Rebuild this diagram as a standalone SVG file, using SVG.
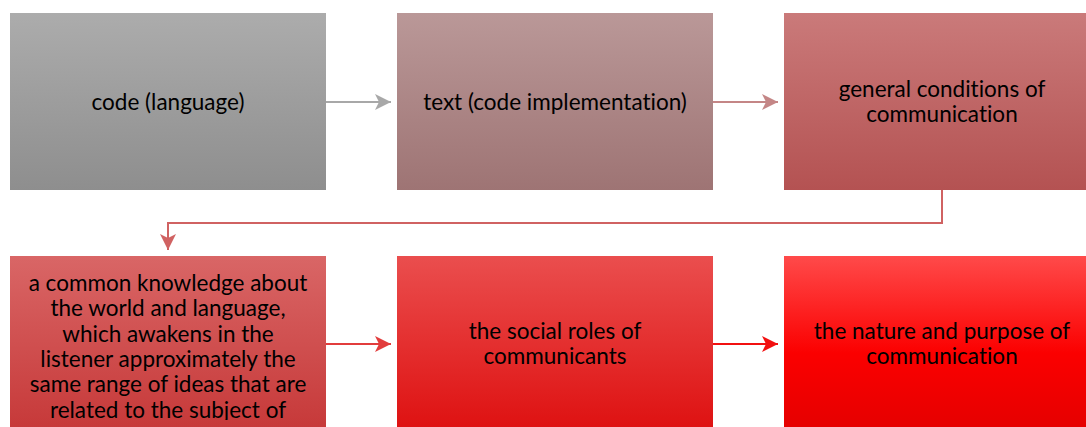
<svg xmlns="http://www.w3.org/2000/svg" width="1086" height="427" viewBox="0 0 1086 427">
  <style>
    .label { font-family: Lato, "Open Sans", "Liberation Sans", sans-serif; font-size: 22.5px; fill: #000; text-anchor: middle; font-variant-ligatures: none; }
    .link { fill: none; stroke-width: 2; }
  </style>
  <defs>
    <linearGradient id="g1" x1="0" y1="0" x2="0" y2="1"><stop offset="0" stop-color="#acacac"/><stop offset="1" stop-color="#8e8e8e"/></linearGradient>
    <linearGradient id="g2" x1="0" y1="0" x2="0" y2="1"><stop offset="0" stop-color="#ba9898"/><stop offset="1" stop-color="#9e7474"/></linearGradient>
    <linearGradient id="g3" x1="0" y1="0" x2="0" y2="1"><stop offset="0" stop-color="#ca7a7a"/><stop offset="1" stop-color="#b45252"/></linearGradient>
    <linearGradient id="g4" x1="0" y1="0" x2="0" y2="1"><stop offset="0" stop-color="#d96666"/><stop offset="1" stop-color="#c63838"/></linearGradient>
    <linearGradient id="g5" x1="0" y1="0" x2="0" y2="1"><stop offset="0" stop-color="#ea4e4e"/><stop offset="1" stop-color="#de1010"/></linearGradient>
    <linearGradient id="g6" x1="0" y1="0" x2="0" y2="1"><stop offset="0" stop-color="#ff4a4a"/><stop offset="0.55" stop-color="#fb0000"/><stop offset="1" stop-color="#e40000"/></linearGradient>
    <marker id="a1" viewBox="0 0 16 16" refX="16" refY="8" markerWidth="16" markerHeight="16" markerUnits="userSpaceOnUse" orient="auto"><path d="M0,0 L16,8 L0,16 L4,8 z" fill="#a8a8a8"/></marker>
    <marker id="a2" viewBox="0 0 16 16" refX="16" refY="8" markerWidth="16" markerHeight="16" markerUnits="userSpaceOnUse" orient="auto"><path d="M0,0 L16,8 L0,16 L4,8 z" fill="#c48686"/></marker>
    <marker id="a3" viewBox="0 0 16 16" refX="16" refY="8" markerWidth="16" markerHeight="16" markerUnits="userSpaceOnUse" orient="auto"><path d="M0,0 L16,8 L0,16 L4,8 z" fill="#d06262"/></marker>
    <marker id="a4" viewBox="0 0 16 16" refX="16" refY="8" markerWidth="16" markerHeight="16" markerUnits="userSpaceOnUse" orient="auto"><path d="M0,0 L16,8 L0,16 L4,8 z" fill="#e23c3c"/></marker>
    <marker id="a5" viewBox="0 0 16 16" refX="16" refY="8" markerWidth="16" markerHeight="16" markerUnits="userSpaceOnUse" orient="auto"><path d="M0,0 L16,8 L0,16 L4,8 z" fill="#f21010"/></marker>
    <clipPath id="clip4"><rect x="10" y="256" width="316" height="164"/></clipPath>
  </defs>

  <g id="connectors">
    <path class="link" d="M326,102 H391" stroke="#a8a8a8" marker-end="url(#a1)"/>
    <path class="link" d="M713,102 H778" stroke="#c48686" marker-end="url(#a2)"/>
    <path class="link" d="M942,190 V223 H168 V250" stroke="#d06262" marker-end="url(#a3)"/>
    <path class="link" d="M326,344 H391" stroke="#e23c3c" marker-end="url(#a4)"/>
    <path class="link" d="M713,344 H778" stroke="#f21010" marker-end="url(#a5)"/>
  </g>

  <g id="code">
    <rect x="10" y="13" width="316" height="177" fill="url(#g1)"/>
    <text class="label" x="168" y="110">code (language)</text>
  </g>

  <g id="text">
    <rect x="397" y="13" width="316" height="177" fill="url(#g2)"/>
    <text class="label" x="555" y="110">text (code implementation)</text>
  </g>

  <g id="conditions">
    <rect x="784" y="13" width="316" height="177" fill="url(#g3)"/>
    <text class="label" x="942" y="97">general conditions of</text>
    <text class="label" x="942" y="122">communication</text>
  </g>

  <g id="knowledge">
    <rect x="10" y="256" width="316" height="177" fill="url(#g4)"/>
    <g clip-path="url(#clip4)">
      <text class="label" x="168" y="291">a common knowledge about</text>
      <text class="label" x="168" y="316.3">the world and language,</text>
      <text class="label" x="168" y="341.6">which awakens in the</text>
      <text class="label" x="168" y="366.9">listener approximately the</text>
      <text class="label" x="168" y="392.2">same range of ideas that are</text>
      <text class="label" x="168" y="417.5">related to the subject of</text>
    </g>
  </g>

  <g id="roles">
    <rect x="397" y="256" width="316" height="177" fill="url(#g5)"/>
    <text class="label" x="555" y="339">the social roles of</text>
    <text class="label" x="555" y="364">communicants</text>
  </g>

  <g id="purpose">
    <rect x="784" y="256" width="316" height="177" fill="url(#g6)"/>
    <text class="label" x="942" y="339">the nature and purpose of</text>
    <text class="label" x="942" y="364">communication</text>
  </g>
</svg>
